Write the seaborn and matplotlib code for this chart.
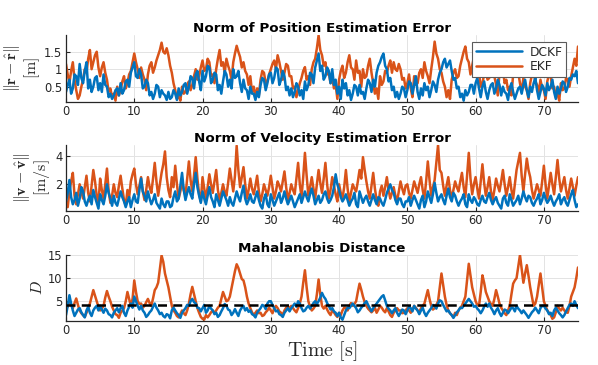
import numpy as np
import pandas as pd
import matplotlib
matplotlib.use("Agg")
import matplotlib.pyplot as plt
import seaborn as sns
from matplotlib.lines import Line2D

# ---------------- data (sampled every 0.25 s, t = 0 ... 75 s) ----------------
time_step = 0.25

pos_dckf = [
    0.35, 0.55, 0.70, 0.30, 0.45, 0.85, 0.80, 0.55, 1.15, 0.75, 0.60, 0.95, 1.20, 0.45, 0.70, 0.35, 0.50, 0.75, 0.80, 0.40,
    0.60, 0.35, 0.85, 0.55, 0.50, 0.20, 0.30, 0.15, 0.25, 0.40, 0.45, 0.25, 0.60, 0.30, 0.40, 0.65, 0.70, 0.50, 0.90, 1.05,
    1.20, 0.80, 0.75, 1.00, 0.85, 0.45, 0.50, 0.70, 0.60, 0.25, 0.35, 0.15, 0.30, 0.55, 0.50, 0.20, 0.40, 0.30, 0.25, 0.12,
    0.35, 0.15, 0.20, 0.40, 0.30, 0.12, 0.45, 0.25, 0.35, 0.55, 0.60, 0.30, 0.50, 0.80, 0.75, 0.45, 0.85, 0.95, 0.65, 0.40,
    0.95, 0.65, 0.80, 1.10, 1.05, 0.60, 0.70, 0.90, 0.85, 0.40, 0.55, 0.30, 0.65, 0.95, 0.85, 0.50, 0.70, 0.45, 1.00, 0.75,
    0.80, 0.95, 0.60, 0.35, 0.70, 0.45, 0.40, 0.15, 0.50, 0.30, 0.30, 0.12, 0.35, 0.20, 0.55, 0.75, 0.70, 0.40, 0.60, 0.85,
    0.90, 0.60, 0.75, 1.05, 1.00, 0.55, 0.70, 0.95, 0.80, 0.40, 0.50, 0.25, 0.45, 0.20, 0.35, 0.60, 0.50, 0.25, 0.40, 0.15,
    0.65, 0.40, 0.55, 0.90, 0.85, 0.60, 1.05, 1.25, 1.45, 0.95, 1.10, 0.70, 0.80, 1.05, 0.95, 0.60, 1.00, 0.55, 0.70, 0.30,
    0.50, 0.15, 0.70, 0.45, 0.60, 0.25, 0.40, 0.12, 0.30, 0.55, 0.50, 0.25, 0.55, 0.30, 0.35, 0.15, 0.45, 0.70, 0.60, 0.35,
    0.70, 0.50, 0.90, 1.10, 1.20, 1.35, 1.45, 1.10, 1.00, 0.65, 0.75, 0.40, 0.50, 0.20, 0.35, 0.15, 0.30, 0.50, 0.45, 0.20,
    0.40, 0.65, 0.60, 0.30, 0.55, 0.80, 0.35, 0.15, 0.45, 0.25, 0.60, 0.40, 0.50, 0.20, 0.40, 0.65, 0.55, 0.35, 0.70, 0.90,
    1.00, 1.20, 1.30, 1.05, 1.15, 1.25, 0.95, 0.70, 0.75, 0.45, 0.50, 0.20, 0.30, 0.10, 0.40, 0.25, 0.35, 0.55, 0.55, 0.30,
    0.60, 0.75, 0.45, 0.20, 0.50, 0.65, 0.35, 0.15, 0.40, 0.55, 0.60, 0.30, 0.45, 0.70, 0.55, 0.25, 0.50, 0.35, 0.30, 0.12,
    0.45, 0.60, 0.35, 0.15, 0.30, 0.45, 0.50, 0.30, 0.55, 0.70, 0.40, 0.20, 0.50, 0.35, 0.60, 0.75, 0.40, 0.15, 0.35, 0.55,
    0.45, 0.25, 0.60, 0.40, 0.50, 0.70, 0.35, 0.15, 0.50, 0.30, 0.45, 0.65, 0.60, 0.35, 0.50, 0.75, 0.70, 0.85, 0.80, 0.95,
    0.60,
]
pos_ekf = [
    1.15, 0.85, 0.60, 0.95, 1.20, 0.70, 0.40, 0.15, 0.25, 0.50, 0.70, 1.00, 0.90, 1.30, 1.55, 1.00, 1.20, 1.40, 1.50, 1.05,
    0.80, 1.05, 1.20, 0.90, 0.70, 0.35, 0.45, 0.20, 0.30, 0.10, 0.50, 0.25, 0.40, 0.65, 0.80, 0.45, 0.60, 0.85, 0.95, 1.20,
    1.45, 1.20, 1.00, 0.75, 1.05, 0.85, 0.70, 0.40, 0.85, 1.10, 1.20, 0.90, 1.05, 1.25, 1.40, 1.55, 1.76, 1.50, 1.45, 1.60,
    1.40, 1.10, 0.90, 0.60, 0.40, 0.15, 0.25, 0.10, 0.50, 0.30, 0.35, 0.55, 0.65, 0.40, 0.55, 0.80, 1.00, 0.70, 0.80, 1.05,
    1.25, 0.95, 1.00, 1.30, 1.20, 0.80, 0.85, 0.60, 1.00, 1.30, 1.55, 1.10, 1.20, 0.90, 1.30, 1.10, 0.95, 0.70, 1.20, 1.45,
    1.67, 1.50, 1.35, 1.05, 1.20, 0.95, 0.85, 0.55, 0.80, 0.35, 0.50, 0.20, 0.45, 0.25, 0.70, 0.95, 0.90, 0.60, 0.65, 0.85,
    1.00, 1.15, 1.25, 1.00, 1.40, 1.20, 0.95, 0.70, 0.90, 1.15, 1.10, 0.80, 0.80, 0.45, 0.50, 0.20, 0.40, 0.60, 0.75, 0.95,
    1.06, 0.70, 0.80, 0.55, 1.00, 1.20, 1.30, 1.60, 1.97, 1.55, 1.40, 1.10, 1.20, 0.85, 0.90, 0.60, 0.80, 0.45, 0.55, 0.15,
    0.70, 0.95, 1.10, 0.75, 0.90, 1.20, 1.40, 1.05, 1.00, 0.70, 1.25, 0.90, 0.95, 0.50, 1.00, 0.75, 0.80, 1.10, 1.30, 0.90,
    0.60, 0.30, 0.45, 0.15, 0.80, 0.55, 0.65, 0.95, 0.90, 1.10, 1.25, 0.90, 1.20, 1.00, 0.95, 1.15, 1.00, 0.70, 0.75, 0.45,
    0.60, 0.85, 0.45, 0.20, 0.80, 0.55, 0.60, 0.90, 1.00, 0.75, 1.20, 0.95, 0.80, 0.60, 1.00, 1.35, 1.79, 1.45, 1.30, 1.00,
    0.90, 0.65, 0.50, 0.20, 0.40, 0.15, 0.70, 0.90, 1.00, 0.75, 0.80, 1.10, 1.30, 1.50, 1.65, 1.30, 1.20, 0.85, 1.10, 1.35,
    1.20, 0.95, 0.90, 0.50, 0.60, 0.85, 1.00, 0.70, 0.75, 1.05, 1.10, 0.80, 0.55, 0.25, 0.90, 1.15, 1.00, 0.60, 0.70, 0.40,
    0.50, 0.25, 0.85, 1.05, 1.20, 0.90, 0.60, 0.35, 0.75, 0.50, 0.40, 0.15, 0.60, 0.85, 0.90, 0.65, 0.55, 0.30, 0.70, 0.45,
    0.40, 0.15, 0.65, 0.85, 0.80, 0.45, 0.50, 0.20, 0.30, 0.10, 0.60, 0.40, 0.45, 0.75, 0.70, 0.50, 0.80, 1.05, 1.30, 1.10,
    1.65,
]

vel_dckf = [
    0.8, 1.4, 2.3, 1.1, 0.6, 0.9, 1.4, 0.5, 1.0, 1.8, 1.5, 0.8, 0.5, 0.9, 1.2, 0.6, 1.6, 1.1, 0.7, 0.3,
    1.3, 0.9, 0.6, 1.2, 2.0, 1.4, 1.0, 0.5, 1.2, 0.7, 0.5, 1.0, 1.5, 1.1, 0.8, 0.4, 0.8, 1.1, 0.4, 0.9,
    1.3, 0.8, 0.7, 1.6, 2.4, 1.5, 1.2, 0.8, 1.5, 1.0, 0.6, 0.9, 1.3, 0.7, 0.5, 0.3, 1.0, 0.6, 0.4, 0.8,
    0.8, 0.4, 0.5, 1.1, 1.5, 0.8, 1.0, 1.9, 2.8, 1.6, 0.9, 1.4, 1.8, 1.3, 1.0, 2.0, 2.8, 1.8, 1.2, 0.7,
    1.5, 1.0, 0.6, 1.2, 1.8, 1.1, 0.8, 0.4, 1.3, 0.9, 0.5, 1.0, 1.5, 1.2, 0.9, 0.5, 1.1, 0.7, 0.5, 1.0,
    1.5, 1.1, 0.8, 1.4, 1.9, 1.0, 0.6, 0.9, 1.3, 0.8, 0.7, 1.1, 1.5, 0.9, 0.5, 0.3, 1.0, 1.3, 0.6, 0.4,
    1.3, 0.9, 0.5, 0.8, 1.1, 1.4, 0.7, 1.0, 1.5, 1.0, 0.6, 0.9, 1.2, 0.8, 0.4, 0.7, 1.0, 1.3, 0.7, 1.1,
    1.5, 1.1, 0.8, 1.3, 1.7, 1.2, 0.6, 0.9, 1.2, 0.7, 0.9, 1.3, 1.5, 1.0, 0.7, 0.9, 1.2, 1.8, 2.7, 2.0,
    1.6, 1.1, 0.8, 1.0, 1.3, 0.9, 0.5, 0.8, 1.0, 1.4, 0.6, 0.4, 1.5, 1.1, 0.7, 1.0, 1.2, 0.8, 0.5, 0.9,
    1.3, 0.9, 0.6, 1.1, 1.0, 0.7, 0.5, 0.9, 1.4, 1.7, 2.0, 1.6, 1.4, 0.9, 0.6, 1.0, 1.0, 0.6, 0.4, 0.8,
    0.8, 1.1, 0.5, 0.9, 1.2, 0.9, 0.6, 0.3, 0.9, 1.2, 0.4, 0.8, 1.5, 1.1, 0.7, 1.3, 2.1, 1.4, 0.8, 1.1,
    1.3, 0.9, 0.6, 1.2, 1.7, 1.1, 0.8, 1.4, 1.2, 0.8, 0.5, 0.8, 1.0, 1.3, 0.6, 0.4, 1.3, 0.9, 0.7, 1.1,
    0.9, 0.6, 0.5, 0.9, 1.2, 0.8, 0.7, 1.1, 1.4, 0.9, 0.6, 0.9, 1.1, 0.7, 0.5, 0.3, 1.0, 1.2, 0.7, 0.5,
    1.3, 0.9, 0.5, 0.7, 0.9, 1.2, 0.6, 1.0, 1.5, 1.1, 0.8, 1.2, 1.1, 0.7, 0.5, 0.8, 1.0, 1.3, 0.6, 0.9,
    1.4, 1.0, 0.7, 0.9, 1.2, 0.8, 0.5, 0.8, 1.0, 1.3, 0.6, 0.9, 1.1, 0.7, 0.5, 0.9, 1.3, 1.6, 0.9, 0.4,
    0.6,
]
vel_ekf = [
    0.8, 0.4, 1.5, 2.2, 2.8, 1.2, 0.6, 1.3, 2.0, 1.5, 1.0, 1.8, 2.6, 1.4, 0.8, 1.9, 3.0, 2.2, 1.2, 0.6,
    2.4, 1.6, 1.0, 2.0, 3.1, 1.5, 0.7, 1.2, 2.0, 1.4, 1.1, 1.9, 2.6, 1.7, 0.9, 0.5, 1.6, 1.1, 2.2, 2.7,
    3.1, 2.0, 1.3, 1.9, 2.5, 1.5, 0.9, 1.6, 2.5, 1.8, 1.4, 2.4, 3.5, 2.2, 1.2, 2.0, 2.8, 3.4, 4.3, 2.5,
    1.6, 1.1, 2.5, 1.8, 3.3, 2.0, 1.0, 1.5, 2.2, 1.6, 1.2, 2.4, 3.6, 2.3, 1.5, 2.6, 3.9, 2.4, 1.3, 0.8,
    2.5, 1.7, 1.0, 1.8, 2.7, 2.0, 1.4, 2.2, 3.0, 1.6, 0.9, 1.4, 2.0, 1.5, 1.2, 2.1, 3.1, 2.3, 1.5, 2.6,
    4.7, 3.0, 1.8, 2.5, 3.2, 2.0, 1.0, 1.6, 2.4, 1.7, 1.3, 1.9, 2.6, 1.5, 0.8, 1.3, 2.0, 1.6, 1.2, 1.8,
    2.6, 1.8, 1.0, 1.5, 2.2, 1.9, 1.5, 2.2, 2.9, 1.8, 0.9, 1.4, 2.0, 1.6, 1.3, 2.4, 3.5, 2.0, 1.1, 2.5,
    4.2, 2.6, 1.2, 1.8, 2.5, 1.7, 1.0, 2.0, 3.0, 2.1, 1.4, 2.4, 3.5, 2.0, 1.0, 1.6, 2.5, 1.9, 1.3, 0.8,
    2.0, 1.4, 1.0, 1.8, 3.0, 1.7, 0.8, 1.4, 2.0, 1.7, 1.5, 2.2, 3.0, 2.4, 3.9, 3.0, 2.2, 1.5, 1.0, 1.9,
    2.8, 1.7, 0.9, 0.5, 1.5, 1.9, 1.2, 1.8, 2.5, 1.6, 1.0, 1.4, 1.8, 1.2, 0.8, 1.5, 2.2, 1.7, 1.3, 1.9,
    2.0, 1.4, 1.0, 1.6, 2.2, 1.8, 1.4, 2.0, 2.5, 1.6, 1.0, 2.2, 3.6, 2.3, 1.2, 1.8, 2.3, 3.5, 4.75, 3.0,
    2.8, 1.9, 1.2, 1.9, 2.5, 1.6, 1.0, 1.6, 2.2, 1.8, 1.5, 2.2, 2.8, 1.8, 1.1, 2.6, 4.2, 2.4, 1.3, 2.0,
    2.5, 1.7, 1.0, 2.2, 3.4, 2.1, 1.2, 1.8, 2.5, 1.5, 0.9, 1.6, 2.4, 1.9, 1.5, 2.2, 3.0, 2.0, 1.2, 1.8,
    2.5, 1.6, 1.0, 2.0, 3.0, 3.6, 4.2, 2.6, 1.5, 2.7, 3.8, 3.0, 2.5, 1.6, 1.0, 1.5, 2.0, 1.6, 1.2, 2.2,
    3.3, 2.0, 1.0, 1.9, 2.8, 2.0, 1.3, 2.5, 3.7, 2.4, 1.5, 2.0, 2.5, 1.6, 1.0, 1.7, 2.4, 1.8, 1.2, 1.9,
    2.5,
]

maha_dckf = [
    2.0, 4.0, 6.3, 4.5, 3.0, 1.8, 2.5, 3.2, 3.5, 2.6, 2.0, 1.5, 3.0, 3.8, 2.5, 1.8, 3.0, 3.6, 4.0, 3.0,
    4.0, 3.2, 2.5, 3.4, 3.0, 2.2, 2.0, 1.5, 2.5, 3.0, 3.5, 2.6, 3.5, 4.0, 2.5, 1.8, 3.0, 3.8, 4.5, 3.6,
    6.0, 5.0, 4.0, 3.2, 4.0, 3.0, 2.5, 1.6, 2.0, 2.6, 3.0, 3.8, 4.5, 3.6, 3.0, 2.2, 2.5, 1.8, 1.5, 2.2,
    2.0, 1.3, 3.0, 3.6, 3.0, 2.4, 2.0, 1.4, 2.5, 3.0, 3.5, 4.2, 4.0, 5.0, 5.5, 4.8, 4.5, 3.6, 3.5, 2.8,
    3.5, 4.2, 2.5, 3.0, 4.0, 3.4, 3.0, 2.2, 2.5, 1.6, 2.0, 2.8, 3.5, 4.4, 4.0, 3.2, 3.0, 2.0, 2.5, 3.3,
    2.5, 1.8, 3.0, 3.6, 4.0, 3.0, 3.5, 2.7, 3.0, 2.2, 2.0, 1.5, 2.5, 3.0, 3.5, 4.2, 4.0, 3.3, 4.5, 5.0,
    5.0, 4.2, 3.5, 2.8, 3.0, 2.2, 2.0, 1.6, 2.5, 3.0, 3.5, 2.8, 3.5, 4.0, 4.5, 3.8, 5.0, 4.5, 3.5, 2.8,
    3.0, 3.6, 4.0, 3.4, 4.0, 4.6, 5.0, 4.4, 5.0, 5.8, 6.8, 6.0, 5.5, 4.6, 4.0, 3.2, 3.5, 2.8, 2.5, 1.8,
    2.5, 1.5, 1.0, 2.0, 3.0, 3.6, 3.5, 4.0, 4.5, 4.0, 3.5, 2.6, 3.0, 3.6, 4.0, 4.6, 5.0, 4.2, 3.5, 2.8,
    3.5, 4.0, 4.5, 5.0, 5.5, 6.0, 6.3, 5.2, 4.0, 3.4, 3.0, 2.4, 3.0, 3.5, 2.5, 1.8, 2.5, 3.2, 3.0, 2.2,
    3.0, 3.8, 3.5, 2.8, 4.0, 3.4, 3.0, 2.2, 3.0, 3.6, 2.5, 1.8, 2.5, 3.0, 3.5, 4.2, 4.0, 3.4, 4.5, 5.2,
    5.0, 4.2, 3.5, 2.8, 3.0, 2.4, 2.0, 1.4, 2.0, 2.6, 3.0, 3.6, 3.5, 4.0, 4.5, 5.0, 5.5, 5.0, 4.5, 3.8,
    4.0, 3.4, 3.0, 2.4, 3.0, 3.8, 4.5, 3.8, 4.5, 3.6, 3.0, 2.2, 3.0, 3.5, 2.5, 1.8, 2.5, 3.2, 3.0, 2.4,
    3.0, 3.6, 3.5, 2.8, 4.0, 3.4, 3.0, 2.4, 3.0, 2.5, 2.0, 1.4, 2.0, 2.6, 3.0, 3.6, 3.0, 2.4, 3.5, 4.0,
    4.0, 3.4, 3.0, 2.2, 2.5, 1.8, 3.0, 3.6, 3.0, 2.4, 2.0, 1.5, 2.0, 2.8, 3.5, 4.2, 4.5, 4.0, 5.0, 4.2,
    3.5,
]
maha_ekf = [
    4.5, 3.8, 5.0, 4.2, 3.5, 4.6, 5.6, 4.2, 3.0, 2.4, 2.0, 1.6, 2.5, 3.4, 4.5, 6.0, 7.4, 6.2, 5.0, 3.8,
    3.0, 3.4, 4.0, 5.8, 7.2, 6.0, 5.0, 3.8, 3.0, 2.2, 2.0, 1.4, 2.5, 3.0, 3.5, 5.0, 7.0, 5.5, 4.0, 5.5,
    9.5, 7.0, 5.0, 4.4, 4.5, 3.6, 4.0, 4.8, 5.5, 4.6, 4.0, 5.6, 7.4, 8.0, 9.0, 12.0, 14.9, 13.5, 11.0, 9.5,
    8.0, 6.0, 4.0, 3.0, 2.5, 1.8, 1.5, 2.2, 3.0, 2.4, 2.0, 3.0, 4.5, 6.5, 8.1, 6.5, 5.0, 3.5, 2.5, 1.6,
    1.2, 1.0, 2.0, 1.5, 2.0, 2.6, 3.0, 2.4, 3.0, 3.6, 4.0, 5.5, 7.0, 6.0, 5.0, 5.2, 6.0, 7.8, 9.5, 11.5,
    13.0, 12.2, 11.0, 9.8, 9.5, 8.0, 6.0, 4.5, 3.5, 2.6, 2.0, 2.5, 3.0, 2.4, 2.5, 1.8, 2.0, 2.6, 3.0, 3.6,
    3.0, 2.4, 3.5, 4.0, 3.5, 2.8, 2.5, 2.0, 3.0, 3.6, 4.0, 3.4, 4.0, 3.5, 3.0, 2.6, 3.5, 4.5, 6.0, 9.0,
    11.7, 8.0, 5.0, 3.8, 3.0, 3.4, 4.0, 6.5, 9.7, 6.5, 4.0, 3.4, 4.0, 3.2, 2.5, 2.0, 3.0, 2.6, 2.0, 1.6,
    2.5, 2.0, 3.0, 3.6, 3.5, 3.0, 4.0, 4.6, 4.0, 4.4, 5.0, 7.0, 8.8, 7.5, 6.0, 4.8, 4.0, 3.4, 3.0, 2.6,
    3.0, 3.6, 2.5, 3.2, 4.0, 3.6, 3.0, 2.6, 3.5, 2.8, 2.0, 1.6, 2.5, 3.0, 3.5, 3.0, 3.0, 2.4, 2.5, 3.0,
    3.5, 3.0, 2.5, 3.2, 4.0, 3.6, 3.0, 2.6, 3.5, 4.0, 4.5, 6.0, 7.4, 5.5, 4.0, 3.2, 3.5, 4.2, 5.0, 8.0,
    11.0, 8.5, 6.0, 4.2, 3.0, 2.4, 2.0, 1.5, 2.5, 2.0, 3.0, 3.6, 4.0, 5.0, 6.0, 9.5, 13.1, 10.5, 8.0, 6.5,
    5.0, 4.2, 4.0, 7.0, 10.6, 9.0, 7.0, 6.0, 5.0, 4.4, 4.0, 5.5, 7.4, 6.0, 4.5, 3.6, 3.0, 2.4, 2.0, 3.0,
    4.0, 6.5, 8.8, 9.5, 10.0, 12.5, 15.0, 12.0, 9.0, 11.0, 12.8, 10.5, 8.0, 6.0, 4.0, 4.5, 6.0, 8.5, 11.0, 8.0,
    5.0, 4.0, 3.0, 2.5, 2.0, 1.2, 1.5, 2.6, 4.0, 3.4, 3.0, 3.6, 3.0, 2.6, 2.5, 4.0, 6.0, 7.0, 8.0, 10.0,
    12.3,
]
maha_threshold = 4.11

titles = ["Norm of Position Estimation Error",
          "Norm of Velocity Estimation Error",
          "Mahalanobis Distance"]
ylabels = [r"$\|\mathbf{r}-\hat{\mathbf{r}}\|$" "\n" r"$[\mathrm{m}]$",
           r"$\|\mathbf{v}-\hat{\mathbf{v}}\|$" "\n" r"$[\mathrm{m/s}]$",
           r"$D$"]
yticks = [[0.5, 1, 1.5], [2, 4], [5, 10, 15]]
yticklabels = [["0.5", "1", "1.5"], ["2", "4"], ["5", "10", "15"]]
ylims = [(0.07, 1.98), (0.13, 4.75), (0.72, 15.0)]
xticks = [0, 10, 20, 30, 40, 50, 60, 70]
series_names = ["DCKF", "EKF"]

# ---------------- style ----------------
sns.set_theme(style="whitegrid")
plt.rcParams["font.family"] = ["DejaVu Sans"]
plt.rcParams["mathtext.fontset"] = "cm"

BLUE = "#0072BD"
ORANGE = "#D95319"
TXT = "#262626"

fig = plt.figure(figsize=(5.98, 3.65), dpi=100)
fig.patch.set_facecolor("white")

left = 66 / 598
width = (578 - 66) / 598
tops = [35, 145, 255]
bottoms = [101.7, 211, 321]

data_sets = [(pos_dckf, pos_ekf), (vel_dckf, vel_ekf), (maha_dckf, maha_ekf)]

axes = []
for i, (dckf, ekf) in enumerate(data_sets):
    b = 1 - bottoms[i] / 365
    h = (bottoms[i] - tops[i]) / 365
    ax = fig.add_axes([left, b, width, h])
    axes.append(ax)
    t = np.arange(len(dckf)) * time_step
    df = pd.DataFrame({"t": np.concatenate([t, t]),
                       "v": np.concatenate([ekf, dckf]),
                       "s": ["EKF"] * len(ekf) + ["DCKF"] * len(dckf)})
    sns.lineplot(data=df, x="t", y="v", hue="s",
                 palette={"DCKF": BLUE, "EKF": ORANGE},
                 hue_order=["EKF", "DCKF"], linewidth=1.8,
                 ax=ax, legend=False, estimator=None)
    if i == 2:
        ax.axhline(maha_threshold, color="black", lw=1.8,
                   dashes=(3.6, 2.5), zorder=5)
    ax.set_xlim(0, 75)
    ax.set_ylim(*ylims[i])
    ax.set_xticks(xticks)
    ax.set_yticks(yticks[i])
    ax.set_yticklabels(yticklabels[i])
    ax.set_facecolor("white")
    ax.grid(True, color="#e3e3e3", lw=0.7)
    for s in ["top", "right"]:
        ax.spines[s].set_visible(False)
    for s in ["left", "bottom"]:
        ax.spines[s].set_visible(True)
        ax.spines[s].set_color(TXT)
        ax.spines[s].set_linewidth(0.9)
    ax.tick_params(axis="both", direction="in", length=3, width=0.8,
                   color=TXT, labelcolor=TXT, labelsize=8.3, pad=2.5,
                   left=True, bottom=True)
    ax.set_title(titles[i], fontsize=9.7, fontweight="bold", pad=2,
                 color="black")
    ax.set_xlabel("")
    ax.set_ylabel(ylabels[i], fontsize=11.5, color=TXT, labelpad=2,
                  linespacing=1.0)

axes[2].set_xlabel(r"$\mathrm{Time}\ [\mathrm{s}]$", fontsize=14.5,
                   color=TXT, labelpad=1)

# legend
handles = [Line2D([], [], color=BLUE, lw=1.8),
           Line2D([], [], color=ORANGE, lw=1.8)]
leg = axes[0].legend(handles, series_names, loc="upper right",
                     bbox_to_anchor=((566 - 66) / 512, (101.7 - 42) / 66.7),
                     borderaxespad=0, fontsize=8.8, handlelength=3.8,
                     frameon=True, fancybox=False, framealpha=1,
                     edgecolor="#5a5a5a", borderpad=0.3, labelspacing=0.15,
                     handletextpad=0.6)
leg.get_frame().set_linewidth(0.8)
leg.set_zorder(10)

fig.savefig("out.png", dpi=100, facecolor="white")
